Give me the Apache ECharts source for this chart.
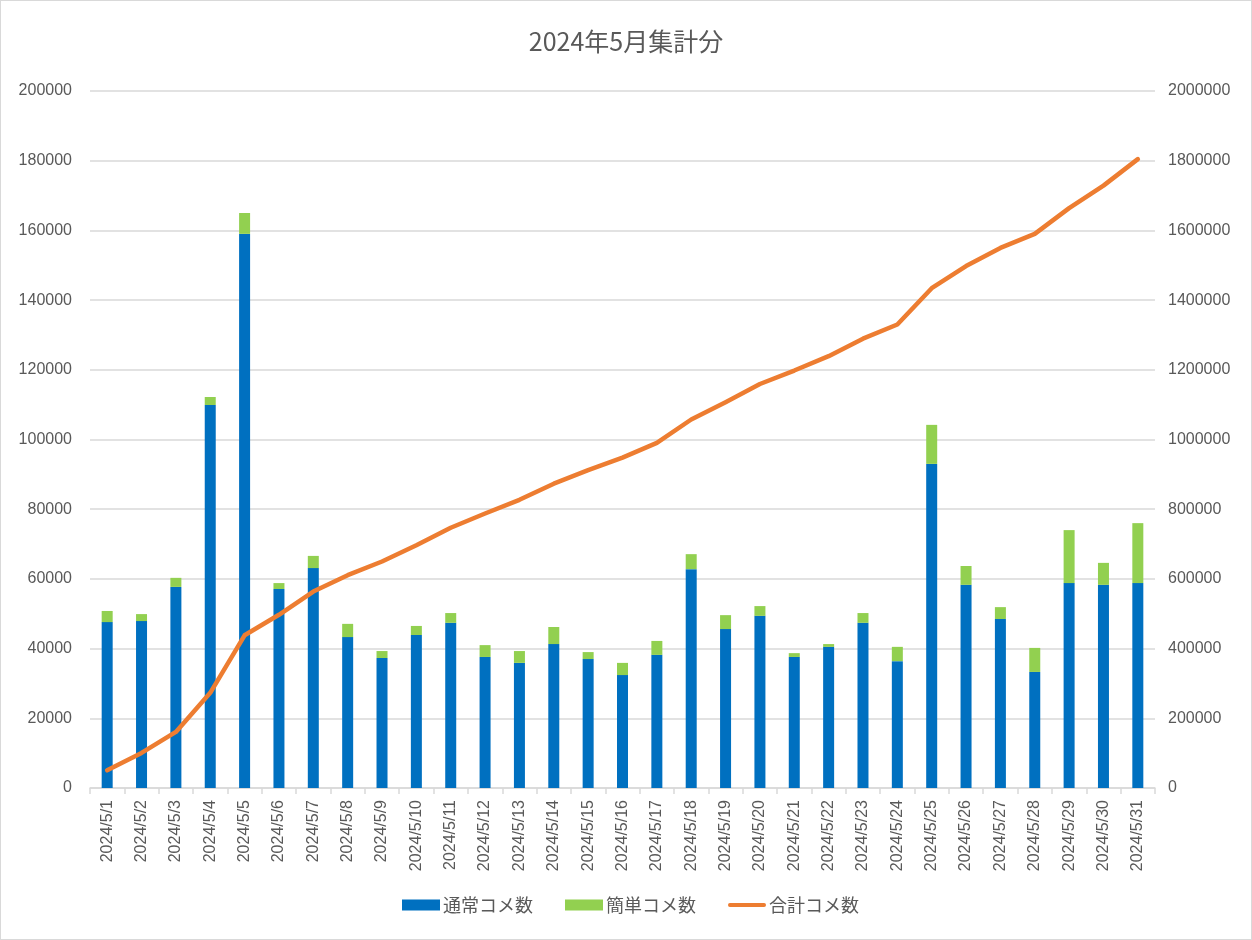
<!DOCTYPE html>
<html>
<head>
<meta charset="utf-8">
<title>2024年5月集計分</title>
<script src="https://cdn.jsdelivr.net/npm/echarts@6/dist/echarts.min.js"></script>
<style>
  html, body { margin: 0; padding: 0; background: #fff; }
  #chart { width: 1250px; height: 938px; border: 1px solid #d9d9d9; }
</style>
</head>
<body>
<div id="chart"></div>
<script>
// 日付
const days = [];
for (let d = 1; d <= 31; d++) days.push("2024/5/" + d);

// 通常コメ数（青）
const normalCounts = [
  47600, 47900, 57700, 109900, 159000, 57100, 63100, 43300, 37300, 43900,
  47400, 37600, 35900, 41300, 37000, 32400, 38200, 62800, 45600, 49400,
  37600, 40500, 47400, 36400, 93000, 58300, 48500, 33300, 58800, 58300, 58800
];
// 簡単コメ数（緑）
const simpleCounts = [
  3200, 2000, 2600, 2300, 6000, 1700, 3500, 3800, 2000, 2600,
  2800, 3400, 3400, 4900, 2000, 3500, 4000, 4300, 4000, 2800,
  1100, 800, 2800, 4100, 11200, 5400, 3400, 6900, 15200, 6300, 17200
];
// 合計コメ数（累計・右軸）
const totalCounts = [
  50800, 100700, 161000, 273200, 438200, 497000, 563600, 610700, 650000, 696500,
  746700, 787700, 827000, 873200, 912200, 948100, 990300, 1057400, 1107000, 1159200,
  1197900, 1239200, 1289400, 1329900, 1434100, 1497800, 1549700, 1589900, 1663900, 1728500, 1804500
];

const chart = echarts.init(document.getElementById("chart"));
const gray = "#595959";
const font = "'Liberation Sans', 'Noto Sans CJK JP', sans-serif";
const plain = v => String(v); // カンマなし

const option = {
  animation: false,
  backgroundColor: "#fff",
  title: {
    text: "2024年5月集計分",
    left: "center",
    top: 23,
    textStyle: { color: gray, fontSize: 25, fontWeight: "normal", fontFamily: "'Noto Sans CJK JP', sans-serif" }
  },
  legend: {
    bottom: 20,
    left: 396,
    itemWidth: 38,
    itemHeight: 11,
    itemGap: 32,
    textStyle: { color: gray, fontSize: 18, fontFamily: "'Noto Sans CJK JP', sans-serif", padding: [0, 0, 0, -2] },
    data: [
      { name: "通常コメ数", icon: "rect" },
      { name: "簡単コメ数", icon: "rect" },
      { name: "合計コメ数", icon: "path://M2,0 L38,0 A2,2 0 0 1 38,4 L2,4 A2,2 0 0 1 2,0 Z" }
    ]
  },
  grid: { left: 89, right: 96, top: 90, bottom: 151, containLabel: false },
  xAxis: {
    type: "category",
    data: days,
    axisLine: { lineStyle: { color: "#d9d9d9", width: 1.5 } },
    axisTick: { show: true, alignWithLabel: false, length: 6, lineStyle: { color: "#d9d9d9", width: 1.5 } },
    axisLabel: { rotate: 90, interval: 0, color: gray, fontSize: 16, fontFamily: font, margin: 12 }
  },
  yAxis: [
    {
      type: "value",
      min: 0, max: 200000, interval: 20000,
      axisLine: { show: false },
      axisTick: { show: false },
      splitLine: { lineStyle: { color: "#d9d9d9", width: 1.5 } },
      axisLabel: { color: gray, fontSize: 16, fontFamily: font, margin: 18, formatter: plain }
    },
    {
      type: "value",
      min: 0, max: 2000000, interval: 200000,
      axisLine: { show: false },
      axisTick: { show: false },
      splitLine: { show: false },
      axisLabel: { color: gray, fontSize: 16, fontFamily: font, margin: 13, formatter: plain }
    }
  ],
  series: [
    {
      name: "通常コメ数",
      type: "bar",
      stack: "count",
      barWidth: 11,
      itemStyle: { color: "#0070C0" },
      data: normalCounts
    },
    {
      name: "簡単コメ数",
      type: "bar",
      stack: "count",
      barWidth: 11,
      itemStyle: { color: "#92D050" },
      data: simpleCounts
    },
    {
      name: "合計コメ数",
      type: "line",
      yAxisIndex: 1,
      symbol: "none",
      lineStyle: { color: "#ED7D31", width: 4.5, cap: "round", join: "round" },
      itemStyle: { color: "#ED7D31" },
      data: totalCounts
    }
  ]
};

chart.setOption(option);
</script>
</body>
</html>
